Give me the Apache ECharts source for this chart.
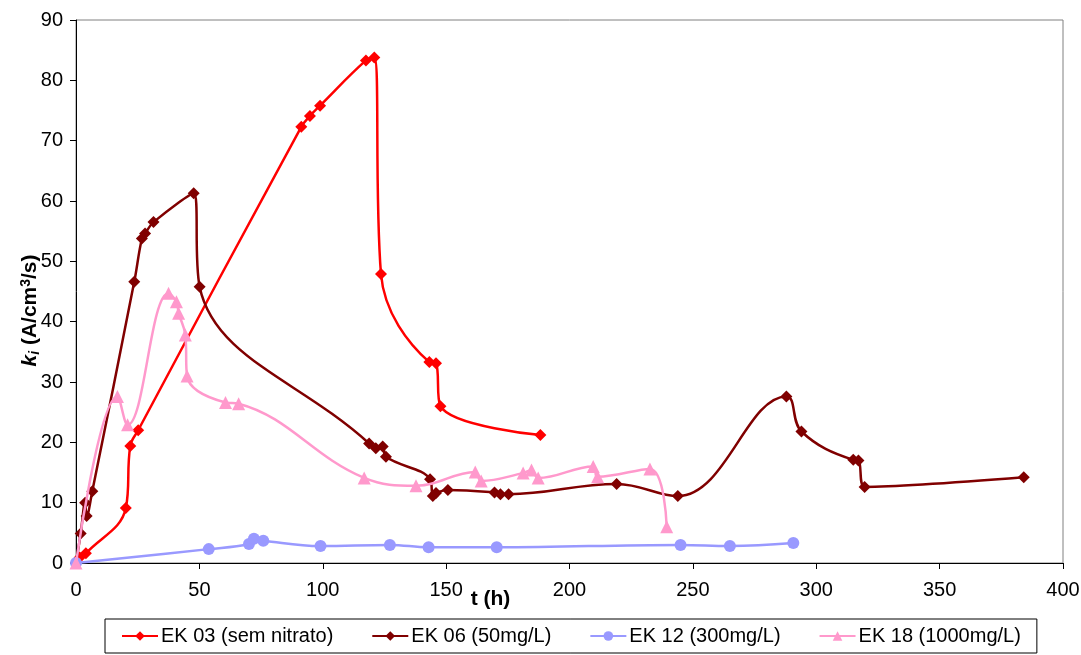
<!DOCTYPE html>
<html>
<head>
<meta charset="utf-8">
<script src="https://cdn.jsdelivr.net/npm/echarts@6/dist/echarts.min.js"></script>
<style>
  html, body { margin: 0; padding: 0; background: #ffffff; }
  #chart { width: 1081px; height: 655px; }
</style>
</head>
<body>
<div id="chart"></div>
<script>
// Series labels
const seriesNames = ['EK 03 (sem nitrato)', 'EK 06 (50mg/L)', 'EK 12 (300mg/L)', 'EK 18 (1000mg/L)'];

// [t (h), k_i (A/cm3/s)]
const ek03 = [[0, 0], [1.5, 0.9], [4, 1.6], [20.2, 9.1], [22, 19.4], [25.2, 22.0],
  [91.3, 72.3], [94.8, 74.1], [98.9, 75.8], [117.5, 83.3], [120.9, 83.8],
  [123.6, 47.9], [143.2, 33.3], [145.9, 33.1], [147.7, 26.0], [188.2, 21.2]];

const ek06 = [[0, 0], [1.9, 4.9], [3.7, 10.0], [4.3, 7.8], [6.6, 11.9], [23.6, 46.6],
  [26.7, 53.8], [28.0, 54.6], [31.4, 56.5], [47.7, 61.3], [50.1, 45.8],
  [118.8, 19.8], [121.5, 19.0], [124.3, 19.3], [125.6, 17.6], [143.5, 13.9],
  [144.6, 11.1], [145.9, 11.6], [150.7, 12.1], [169.6, 11.7], [172, 11.4],
  [175.3, 11.4], [219.1, 13.1], [243.9, 11.1], [287.9, 27.6], [294, 21.8],
  [315, 17.1], [317.1, 17.0], [319.6, 12.6], [384.1, 14.2]];

const ek12 = [[0, 0], [53.8, 2.3], [70.1, 3.15], [72.1, 4.0], [75.9, 3.7], [99.1, 2.8],
  [127.2, 3.0], [142.9, 2.6], [170.5, 2.6], [245, 3.0], [265, 2.8], [290.7, 3.3]];

const ek18 = [[0, 0], [16.8, 27.6], [20.9, 22.9], [37.5, 44.7], [40.7, 43.3], [41.6, 41.4],
  [44.3, 37.8], [45, 31.0], [60.6, 26.6], [65.9, 26.4], [116.8, 14.1], [137.8, 12.8],
  [161.8, 15.1], [164.2, 13.6], [181.2, 14.9], [184.6, 15.4], [187.3, 14.1],
  [209.6, 16.0], [211.4, 14.3], [232.6, 15.6], [239.4, 6.0]];

// Axis ranges
const xTicks = { min: 0, max: 400, interval: 50 };
const yTicks = { min: 0, max: 90, interval: 10 };

const colors = ['#ff0000', '#800000', '#9999ff', '#ff99cc'];
const symbols = ['diamond', 'diamond', 'circle', 'triangle'];
const symbolSizes = [12, 12, 12, 13];
const datasets = [ek03, ek06, ek12, ek18];

const FONT = 'Liberation Sans, Arial, sans-serif';

const chart = echarts.init(document.getElementById('chart'), null, { renderer: 'canvas' });

const series = datasets.map((d, i) => ({
  name: seriesNames[i],
  type: 'line',
  data: d,
  smooth: 0.4,
  symbol: symbols[i],
  symbolSize: symbolSizes[i],
  showAllSymbol: true,
  color: colors[i],
  lineStyle: { width: 2.5, color: colors[i] },
  itemStyle: { color: colors[i] },
  emphasis: { disabled: true },
  z: 2 + i
}));

chart.setOption({
  animation: false,
  backgroundColor: '#ffffff',
  grid: {
    left: 76, right: 18, top: 20, bottom: 92,
    outerBoundsMode: 'none',
    show: true, borderColor: '#808080', borderWidth: 1, backgroundColor: 'transparent'
  },
  xAxis: {
    type: 'value',
    min: xTicks.min, max: xTicks.max, interval: xTicks.interval,
    name: 't (h)',
    nameLocation: 'middle',
    nameMoveOverlap: false,
    nameGap: 26,
    nameTextStyle: { fontFamily: FONT, fontSize: 21, fontWeight: 'bold', color: '#000', padding: [0, 158, 0, 0] },
    axisLine: { show: true, lineStyle: { color: '#000', width: 1 } },
    axisTick: { show: true, length: 6, lineStyle: { color: '#000' } },
    axisLabel: { fontFamily: FONT, fontSize: 20, color: '#000', margin: 17 },
    splitLine: { show: false }
  },
  yAxis: {
    type: 'value',
    min: yTicks.min, max: yTicks.max, interval: yTicks.interval,
    name: '{k|k}{i|i}{t| (A/cm}{s|3}{t|/s)}',
    nameLocation: 'middle',
    nameMoveOverlap: false,
    nameGap: 34,
    nameRotate: 90,
    nameTextStyle: {
      fontFamily: FONT, color: '#000', padding: [0, 38, 0, 0],
      rich: {
        k: { fontFamily: FONT, fontSize: 21, fontWeight: 'bold', fontStyle: 'italic', color: '#000' },
        i: { fontFamily: FONT, fontSize: 14, fontWeight: 'bold', fontStyle: 'italic', color: '#000', verticalAlign: 'bottom', padding: [9, 0, 0, 0] },
        t: { fontFamily: FONT, fontSize: 21, fontWeight: 'bold', color: '#000' },
        s: { fontFamily: FONT, fontSize: 14, fontWeight: 'bold', color: '#000', verticalAlign: 'top', padding: [0, 0, 9, 0] }
      }
    },
    axisLine: { show: true, lineStyle: { color: '#000', width: 1 } },
    axisTick: { show: true, length: 6, lineStyle: { color: '#000' } },
    axisLabel: { fontFamily: FONT, fontSize: 20, color: '#000', margin: 13 },
    splitLine: { show: false }
  },
  legend: {
    data: seriesNames,
    left: 105, top: 619,
    padding: [7, 16, 7, 16],
    itemGap: 38,
    itemWidth: 36, itemHeight: 12,
    borderColor: '#000', borderWidth: 1,
    backgroundColor: '#fff',
    textStyle: { fontFamily: FONT, fontSize: 20, color: '#000', padding: [0, 0, 0, -2] }
  },
  series: series
});
</script>
</body>
</html>
